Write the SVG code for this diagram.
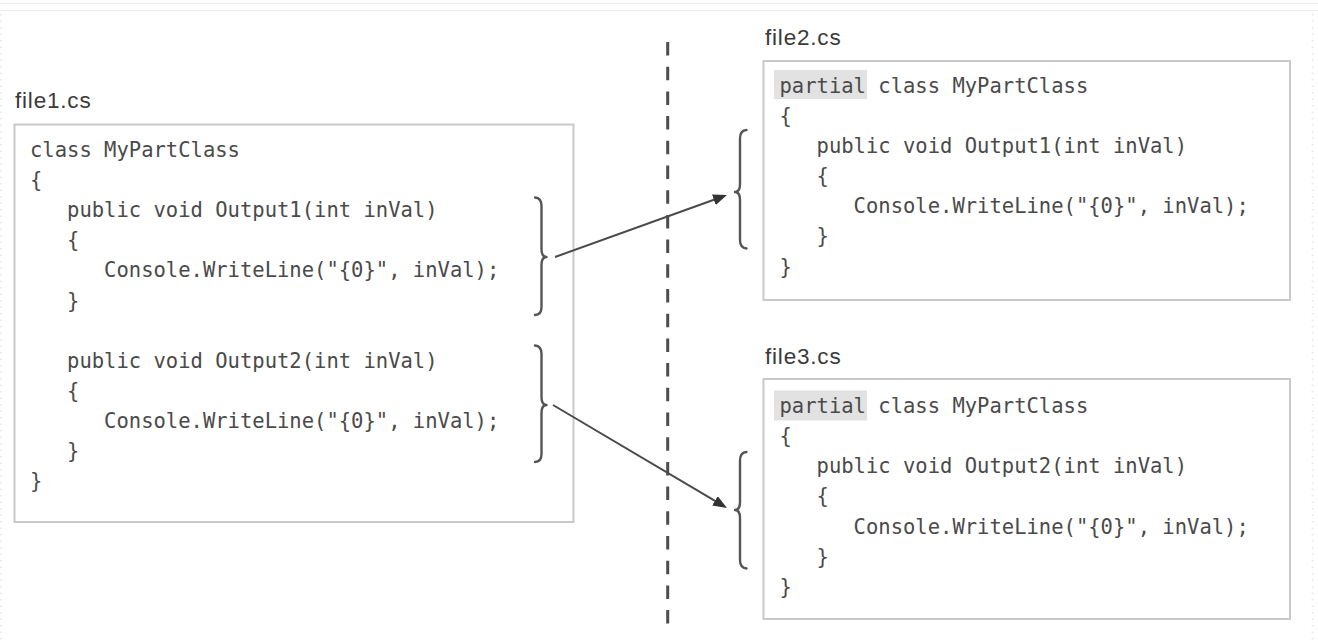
<svg xmlns="http://www.w3.org/2000/svg" width="1318" height="642" viewBox="0 0 1318 642">
  <defs>
    <style>
      .bg { fill: #ffffff; }
      .box { fill: #ffffff; stroke: #c9c9c9; stroke-width: 2; }
      .label { font-family: "Liberation Sans", Arial, sans-serif; font-size: 22.5px; letter-spacing: 0.8px; fill: #3a3a3a; }
      .code { font-family: "DejaVu Sans Mono", "Liberation Mono", monospace; font-size: 21px; fill: #4a4a4a; }
      .hl { fill: #e2e2e2; }
      .brace { fill: none; stroke: #555555; stroke-width: 2.4; stroke-linecap: round; stroke-linejoin: round; }
      .arrow { fill: none; stroke: #4a4a4a; stroke-width: 2; }
      .divider { fill: none; stroke: #4d4d4d; stroke-width: 3; stroke-dasharray: 13.5 11.2; }
      .edge { fill: none; stroke: #ececec; stroke-width: 1; }
      .edgedot { fill: none; stroke: #e4e4e4; stroke-width: 1.5; stroke-dasharray: 1.5 5; }
    </style>
    <marker id="ah" viewBox="0 0 14 11" refX="6" refY="5.5" markerWidth="14" markerHeight="11" orient="auto" markerUnits="userSpaceOnUse">
      <path d="M0,0 L14,5.5 L0,11 Z" fill="#333333"/>
    </marker>
  </defs>

  <rect class="bg" x="0" y="0" width="1318" height="642"/>
  <g id="page-edges">
    <line class="edge" x1="0" y1="10.5" x2="1318" y2="10.5"/>
    <line class="edge" x1="0" y1="3.5" x2="1318" y2="3.5" stroke="#f4f4f4"/>
    <line class="edgedot" x1="1" y1="14" x2="1" y2="642"/>
    <line class="edgedot" x1="1312.5" y1="14" x2="1312.5" y2="642"/>
  </g>

  <g id="divider">
    <line class="divider" x1="667.7" y1="42" x2="667.7" y2="624"/>
  </g>

  <g id="file1">
    <text class="label" x="15" y="108">file1.cs</text>
    <rect class="box" x="14.5" y="124.5" width="559" height="397.5"/>
    <text class="code" x="30" y="157" textLength="209.95" lengthAdjust="spacingAndGlyphs">class MyPartClass</text>
    <text class="code" x="30" y="187.1" textLength="12.35" lengthAdjust="spacingAndGlyphs">{</text>
    <text class="code" x="67.05" y="217.2" textLength="370.5" lengthAdjust="spacingAndGlyphs">public void Output1(int inVal)</text>
    <text class="code" x="67.05" y="247.3" textLength="12.35" lengthAdjust="spacingAndGlyphs">{</text>
    <text class="code" x="104.1" y="277.4" textLength="395.2" lengthAdjust="spacingAndGlyphs">Console.WriteLine("{0}", inVal);</text>
    <text class="code" x="67.05" y="307.5" textLength="12.35" lengthAdjust="spacingAndGlyphs">}</text>
    <text class="code" x="67.05" y="367.7" textLength="370.5" lengthAdjust="spacingAndGlyphs">public void Output2(int inVal)</text>
    <text class="code" x="67.05" y="397.8" textLength="12.35" lengthAdjust="spacingAndGlyphs">{</text>
    <text class="code" x="104.1" y="427.9" textLength="395.2" lengthAdjust="spacingAndGlyphs">Console.WriteLine("{0}", inVal);</text>
    <text class="code" x="67.05" y="458" textLength="12.35" lengthAdjust="spacingAndGlyphs">}</text>
    <text class="code" x="30" y="488.1" textLength="12.35" lengthAdjust="spacingAndGlyphs">}</text>
  </g>

  <g id="file2">
    <text class="label" x="765" y="45">file2.cs</text>
    <rect class="box" x="763.5" y="61" width="526.5" height="239"/>
    <rect class="hl" x="774" y="70" width="93" height="29"/>
    <text class="code" x="779.5" y="92.7" textLength="308.75" lengthAdjust="spacingAndGlyphs">partial class MyPartClass</text>
    <text class="code" x="779.5" y="122.85" textLength="12.35" lengthAdjust="spacingAndGlyphs">{</text>
    <text class="code" x="816.55" y="153" textLength="370.5" lengthAdjust="spacingAndGlyphs">public void Output1(int inVal)</text>
    <text class="code" x="816.55" y="183.15" textLength="12.35" lengthAdjust="spacingAndGlyphs">{</text>
    <text class="code" x="853.6" y="213.3" textLength="395.2" lengthAdjust="spacingAndGlyphs">Console.WriteLine("{0}", inVal);</text>
    <text class="code" x="816.55" y="243.45" textLength="12.35" lengthAdjust="spacingAndGlyphs">}</text>
    <text class="code" x="779.5" y="273.6" textLength="12.35" lengthAdjust="spacingAndGlyphs">}</text>
  </g>

  <g id="file3">
    <text class="label" x="765" y="364">file3.cs</text>
    <rect class="box" x="763.5" y="379" width="526.5" height="240"/>
    <rect class="hl" x="774" y="390.5" width="93" height="30"/>
    <text class="code" x="779.5" y="413" textLength="308.75" lengthAdjust="spacingAndGlyphs">partial class MyPartClass</text>
    <text class="code" x="779.5" y="443.15" textLength="12.35" lengthAdjust="spacingAndGlyphs">{</text>
    <text class="code" x="816.55" y="473.3" textLength="370.5" lengthAdjust="spacingAndGlyphs">public void Output2(int inVal)</text>
    <text class="code" x="816.55" y="503.45" textLength="12.35" lengthAdjust="spacingAndGlyphs">{</text>
    <text class="code" x="853.6" y="533.6" textLength="395.2" lengthAdjust="spacingAndGlyphs">Console.WriteLine("{0}", inVal);</text>
    <text class="code" x="816.55" y="563.75" textLength="12.35" lengthAdjust="spacingAndGlyphs">}</text>
    <text class="code" x="779.5" y="593.9" textLength="12.35" lengthAdjust="spacingAndGlyphs">}</text>
  </g>

  <g id="connectors">
    <path class="brace" d="M535,197.5 Q541.5,198 541.5,206 L541.5,249 Q541.5,257 546.5,257 Q541.5,257 541.5,265 L541.5,307 Q541.5,315 535,315"/>
    <path class="brace" d="M535,345.5 Q541.5,346 541.5,354 L541.5,397 Q541.5,405 546.5,405 Q541.5,405 541.5,413 L541.5,454 Q541.5,462 535,462"/>
    <path class="brace" d="M746.5,130 Q740,130.5 740,138.5 L740,184 Q740,192 735,192 Q740,192 740,200 L740,240 Q740,248 746.5,248.5"/>
    <path class="brace" d="M746.5,452 Q740,452.5 740,460.5 L740,502 Q740,510 735,510 Q740,510 740,518 L740,560 Q740,568 746.5,568.5"/>
    <line class="arrow" x1="555" y1="257" x2="719.5" y2="197.7" marker-end="url(#ah)"/>
    <line class="arrow" x1="553" y1="405" x2="720.1" y2="503.9" marker-end="url(#ah)"/>
  </g>
</svg>
